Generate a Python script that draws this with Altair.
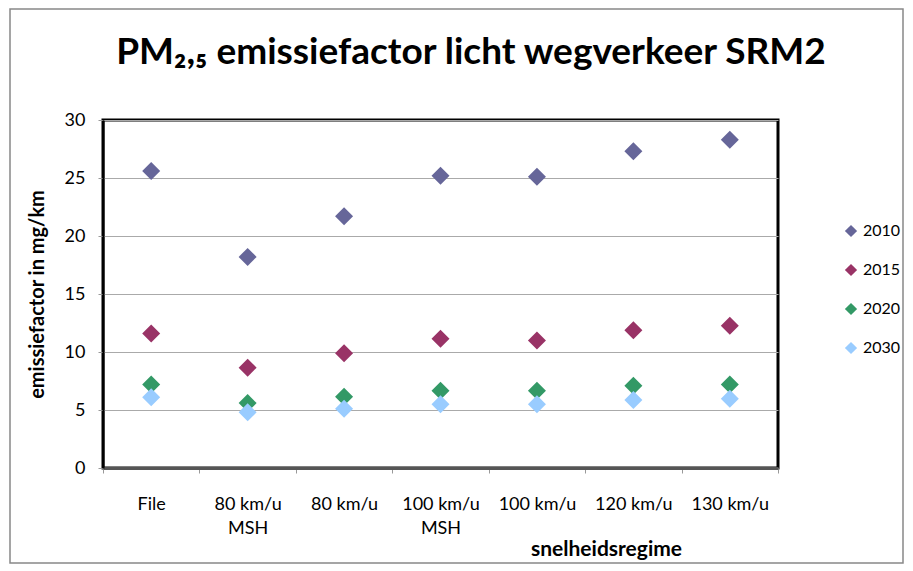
import altair as alt
import pandas as pd

categories = ["File", "80 km/u|MSH", "80 km/u", "100 km/u|MSH", "100 km/u", "120 km/u", "130 km/u"]
years = ["2010", "2015", "2020", "2030"]
v2010 = [25.6, 18.2, 21.7, 25.2, 25.1, 27.3, 28.3]
v2015 = [11.6, 8.65, 9.9, 11.15, 11.0, 11.87, 12.27]
v2020 = [7.2, 5.6, 6.15, 6.67, 6.67, 7.1, 7.2]
v2030 = [6.1, 4.8, 5.1, 5.5, 5.5, 5.86, 5.97]
colors = ["#666699", "#993366", "#339966", "#99CCFF"]
title_text = ["PM₂,₅ emissiefactor licht wegverkeer SRM2"]

rows = []
for yr, vals in zip(years, [v2010, v2015, v2020, v2030]):
    for c, v in zip(categories, vals):
        rows.append({"regime": c, "jaar": yr, "waarde": v})
df = pd.DataFrame(rows)

FONT = "Lato"

points = alt.Chart(df).mark_point(shape="diamond", filled=True, size=324, opacity=1).encode(
    x=alt.X("regime:N", sort=categories,
            scale=alt.Scale(paddingInner=0, paddingOuter=0),
            axis=alt.Axis(title="snelheidsregime", labelAngle=0,
                          labelExpr="split(datum.label, '|')",
                          labelFont=FONT, labelFontSize=18, labelColor="black",
                          labelPadding=22, labelLineHeight=24,
                          tickBand="extent", tickSize=5, tickColor="#999999",
                          domainColor="#555555", domainWidth=3,
                          titleFont=FONT, titleFontSize=21, titleFontWeight="bold",
                          titleColor="black", titleX=503, titleY=87,
                          titleBaseline="alphabetic", titleAlign="center",
                          grid=False)),
    y=alt.Y("waarde:Q", scale=alt.Scale(domain=[0, 30], nice=False),
            axis=alt.Axis(title="emissiefactor in mg/km", values=[0, 5, 10, 15, 20, 25, 30],
                          labelFont=FONT, labelFontSize=18, labelColor="black",
                          labelPadding=13, tickSize=5, tickColor="#999999",
                          domainColor="black", domainWidth=2,
                          gridColor="#aaaaaa", gridWidth=1.2,
                          titleFont=FONT, titleFontSize=20, titleFontWeight="bold",
                          titleColor="black", titlePadding=17)),
    color=alt.Color("jaar:N", scale=alt.Scale(domain=years, range=colors),
                    legend=alt.Legend(title=None, orient="none", legendX=740, legendY=103,
                                      symbolType="diamond", symbolSize=150,
                                      symbolStrokeWidth=0,
                                      labelFont=FONT, labelFontSize=16, labelColor="black",
                                      rowPadding=23, labelOffset=4, padding=0)),
    order=alt.Order("jaar:N"),
)

border_df = pd.DataFrame({"k": [0]})
border = alt.Chart(border_df).mark_rect(fill=None, stroke="#888888", strokeWidth=1.5, clip=False).encode(
    x=alt.value(-93), x2=alt.value(800), y=alt.value(-111), y2=alt.value(443)
)

title_df = pd.DataFrame({"t": title_text})
title = alt.Chart(title_df).mark_text(font=FONT, fontSize=37, fontWeight="bold", color="black",
                                      align="center", baseline="alphabetic").encode(
    text="t:N", x=alt.value(368), y=alt.value(-56)
)

chart = alt.layer(border, points, title).properties(
    width=675, height=348,
    autosize=alt.AutoSizeParams(type="none"),
    padding={"left": 95, "top": 112, "right": 127, "bottom": 96},
).configure(background="white").configure_view(stroke="black", strokeWidth=3)

chart.save("out.html", embed_options={"renderer": "svg", "actions": False})
